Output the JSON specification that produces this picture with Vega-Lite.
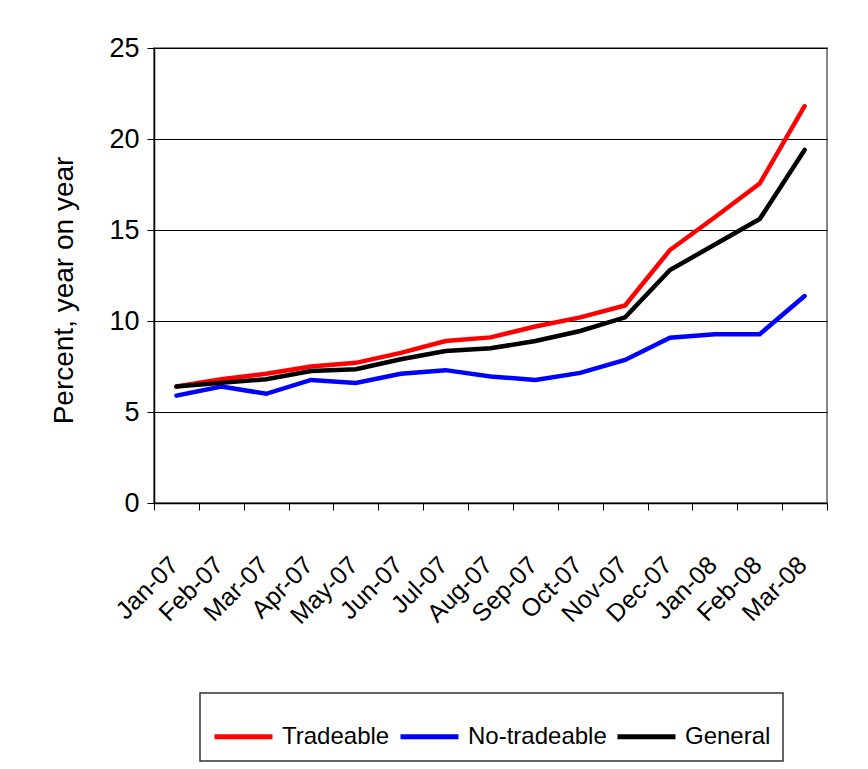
{
  "$schema": "https://vega.github.io/schema/vega-lite/v6.json",
  "width": 673,
  "height": 455,
  "autosize": {"type": "none"},
  "padding": {"left": 154, "top": 48, "right": 41, "bottom": 266},
  "background": "white",
  "data": {
    "values": [
      {"month": "Jan-07", "series": "Tradeable", "value": 6.4},
      {"month": "Feb-07", "series": "Tradeable", "value": 6.8},
      {"month": "Mar-07", "series": "Tradeable", "value": 7.1},
      {"month": "Apr-07", "series": "Tradeable", "value": 7.5},
      {"month": "May-07", "series": "Tradeable", "value": 7.7},
      {"month": "Jun-07", "series": "Tradeable", "value": 8.25},
      {"month": "Jul-07", "series": "Tradeable", "value": 8.9},
      {"month": "Aug-07", "series": "Tradeable", "value": 9.1},
      {"month": "Sep-07", "series": "Tradeable", "value": 9.7},
      {"month": "Oct-07", "series": "Tradeable", "value": 10.2},
      {"month": "Nov-07", "series": "Tradeable", "value": 10.85},
      {"month": "Dec-07", "series": "Tradeable", "value": 13.9},
      {"month": "Jan-08", "series": "Tradeable", "value": 15.7},
      {"month": "Feb-08", "series": "Tradeable", "value": 17.55},
      {"month": "Mar-08", "series": "Tradeable", "value": 21.8},
      {"month": "Jan-07", "series": "No-tradeable", "value": 5.9},
      {"month": "Feb-07", "series": "No-tradeable", "value": 6.4},
      {"month": "Mar-07", "series": "No-tradeable", "value": 6.0},
      {"month": "Apr-07", "series": "No-tradeable", "value": 6.76},
      {"month": "May-07", "series": "No-tradeable", "value": 6.6},
      {"month": "Jun-07", "series": "No-tradeable", "value": 7.1},
      {"month": "Jul-07", "series": "No-tradeable", "value": 7.3},
      {"month": "Aug-07", "series": "No-tradeable", "value": 6.95},
      {"month": "Sep-07", "series": "No-tradeable", "value": 6.76},
      {"month": "Oct-07", "series": "No-tradeable", "value": 7.15},
      {"month": "Nov-07", "series": "No-tradeable", "value": 7.86},
      {"month": "Dec-07", "series": "No-tradeable", "value": 9.08},
      {"month": "Jan-08", "series": "No-tradeable", "value": 9.27},
      {"month": "Feb-08", "series": "No-tradeable", "value": 9.27},
      {"month": "Mar-08", "series": "No-tradeable", "value": 11.37},
      {"month": "Jan-07", "series": "General", "value": 6.4},
      {"month": "Feb-07", "series": "General", "value": 6.6},
      {"month": "Mar-07", "series": "General", "value": 6.8},
      {"month": "Apr-07", "series": "General", "value": 7.25},
      {"month": "May-07", "series": "General", "value": 7.35},
      {"month": "Jun-07", "series": "General", "value": 7.9},
      {"month": "Jul-07", "series": "General", "value": 8.35},
      {"month": "Aug-07", "series": "General", "value": 8.5},
      {"month": "Sep-07", "series": "General", "value": 8.9},
      {"month": "Oct-07", "series": "General", "value": 9.45},
      {"month": "Nov-07", "series": "General", "value": 10.2},
      {"month": "Dec-07", "series": "General", "value": 12.8},
      {"month": "Jan-08", "series": "General", "value": 14.2},
      {"month": "Feb-08", "series": "General", "value": 15.6},
      {"month": "Mar-08", "series": "General", "value": 19.4}
    ]
  },
  "mark": {"type": "line", "strokeWidth": 4.5, "strokeJoin": "miter", "strokeCap": "round"},
  "encoding": {
    "x": {
      "field": "month",
      "type": "ordinal",
      "sort": null,
      "scale": {"type": "band", "paddingInner": 0, "paddingOuter": 0},
      "axis": {
        "title": null,
        "labelAngle": -45,
        "labelAlign": "right",
        "labelBaseline": "top",
        "labelPadding": 42,
        "labelOffset": -11,
        "labelFont": "Liberation Sans",
        "labelFontSize": 25,
        "labelColor": "black",
        "tickBand": "extent",
        "tickSize": 7,
        "tickColor": "black",
        "domainColor": "black",
        "domainWidth": 1.5,
        "grid": false
      }
    },
    "y": {
      "field": "value",
      "type": "quantitative",
      "scale": {"domain": [0, 25], "nice": false},
      "axis": {
        "values": [0, 5, 10, 15, 20, 25],
        "title": "Percent, year on year",
        "titleFont": "Liberation Sans",
        "titleFontSize": 28,
        "titleFontWeight": "normal",
        "titleColor": "black",
        "titlePadding": 30,
        "titleY": 242,
        "labelFont": "Liberation Sans",
        "labelFontSize": 27,
        "labelColor": "black",
        "labelPadding": 8,
        "tickSize": 7,
        "tickColor": "black",
        "domainColor": "black",
        "domainWidth": 1.5,
        "grid": true,
        "gridColor": "black",
        "gridWidth": 1
      }
    },
    "color": {
      "field": "series",
      "type": "nominal",
      "sort": ["Tradeable", "No-tradeable", "General"],
      "scale": {"domain": ["Tradeable", "No-tradeable", "General"], "range": ["#FF0000", "#0000FF", "#000000"]},
      "legend": {
        "title": null,
        "orient": "none",
        "legendX": 46,
        "legendY": 645,
        "direction": "horizontal",
        "symbolType": "stroke",
        "symbolSize": 3364,
        "symbolStrokeWidth": 5,
        "labelFont": "Liberation Sans",
        "labelFontSize": 24,
        "labelColor": "black",
        "labelOffset": 7,
        "columnPadding": 0,
        "padding": 12,
        "strokeColor": "#333333",
        "fillColor": "white"
      }
    }
  },
  "config": {
    "view": {"stroke": "#888888", "strokeWidth": 2},
    "legend": {"strokeWidth": 1.5}
  }
}
